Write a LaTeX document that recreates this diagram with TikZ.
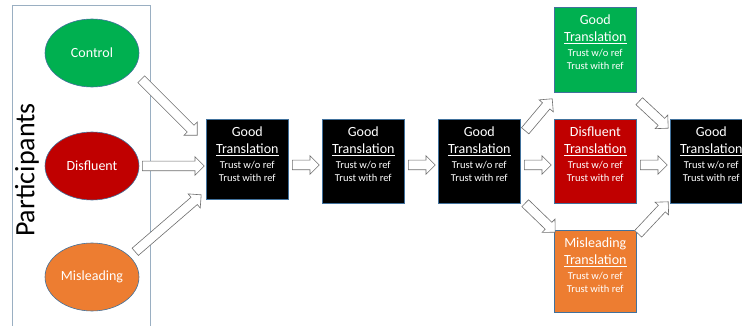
\documentclass[tikz,border=0pt]{standalone}
\usepackage{fontspec}
\setmainfont{Carlito}
\usetikzlibrary{shapes.geometric,shapes.arrows,calc}
\definecolor{pgreen}{HTML}{00B050}
\definecolor{pred}{HTML}{C00000}
\definecolor{porange}{HTML}{ED7D31}
\definecolor{pedge}{HTML}{41719C}
\definecolor{ppanel}{HTML}{9AAFC2}
\definecolor{parrow}{HTML}{6E6E6E}
\tikzset{
  oval/.style={ellipse, draw=pedge, line width=0.6pt, minimum width=94pt, minimum height=68pt, inner sep=0pt,
    text=white, font=\fontsize{14}{16}\selectfont},
  tbox/.style={rectangle, draw=pedge, line width=0.6pt, minimum width=82pt, minimum height=84pt, inner sep=0pt, anchor=north west},
  ttext/.style={anchor=north, text=white, align=center, inner sep=0pt, font=\fontsize{10.5}{13}\selectfont},
  blockarrow/.style={single arrow, draw=parrow, fill=white, line width=0.6pt, inner xsep=0pt, inner ysep=4.5pt,
    single arrow head extend=4.5pt, single arrow tip angle=90}
}
\newcommand\barrow[2]{%
  \path let \p1=(#1), \p2=(#2), \n1={atan2(\y2-\y1,\x2-\x1)}, \n2={veclen(\x2-\x1,\y2-\y1)} in
    node[blockarrow, minimum height=\n2, rotate=\n1, anchor=tail] at (\p1) {};}
\newcommand\boxlines[1]{{\fontsize{14}{16}\selectfont #1}\\[4pt]{\fontsize{14}{16}\selectfont\underline{Translation}}\\[1.5pt]Trust w/o ref\\Trust with ref}
\begin{document}
\begin{tikzpicture}[x=1pt,y=-1pt]
\useasboundingbox (0,0) rectangle (742,326);
% participants panel
\draw[ppanel, line width=0.7pt] (12,335) -- (12,5) -- (150,5) -- (150,335);
\node[rotate=90, font=\fontsize{28}{30}\selectfont, inner sep=0pt] (part) at (27,170) {Participants};
% ellipses
\node[oval, fill=pgreen] (ctrl) at (92,53) {Control};
\node[oval, fill=pred] (disf) at (92,166) {Disfluent};
\node[oval, fill=porange] (misl) at (92,277) {Misleading};
% boxes
\node[tbox, fill=black, minimum height=80pt] (b1) at (206,119) {};
\node[tbox, fill=black] (b2) at (322,119) {};
\node[tbox, fill=black] (b3) at (438,119) {};
\node[tbox, fill=pgreen, minimum height=85pt] (bg) at (554,7) {};
\node[tbox, fill=pred] (br) at (554,119) {};
\node[tbox, fill=porange, minimum height=82pt] (bo) at (554,230) {};
\node[tbox, fill=black] (b4) at (670,119) {};
% box texts
\node[ttext] (t1) at ($(b1.north)+(0,8)$) {\boxlines{Good}};
\node[ttext] (t2) at ($(b2.north)+(0,8)$) {\boxlines{Good}};
\node[ttext] (t3) at ($(b3.north)+(0,8)$) {\boxlines{Good}};
\node[ttext] (tg) at ($(bg.north)+(0,8)$) {\boxlines{Good}};
\node[ttext] (tr) at ($(br.north)+(0,8)$) {\boxlines{Disfluent}};
\node[ttext] (to) at ($(bo.north)+(0,8)$) {\boxlines{Misleading}};
\node[ttext] (t4) at ($(b4.north)+(0,8)$) {\boxlines{Good}};
% arrow end points
\coordinate (a1s) at (141,79);  \coordinate (a1e) at (197,135);
\coordinate (a2s) at (142,166); \coordinate (a2e) at (204,166);
\coordinate (a3s) at (135,252); \coordinate (a3e) at (201,195);
\coordinate (a4s) at (292,165); \coordinate (a4e) at (319,165);
\coordinate (a5s) at (408,165); \coordinate (a5e) at (435,165);
\coordinate (a6s) at (525,131); \coordinate (a6e) at (552,99);
\coordinate (a7s) at (524,165); \coordinate (a7e) at (551,165);
\coordinate (a8s) at (525,203); \coordinate (a8e) at (555,232);
\coordinate (a9s) at (639,101); \coordinate (a9e) at (668,128);
\coordinate (a10s) at (640,165); \coordinate (a10e) at (667,165);
\coordinate (a11s) at (638,234); \coordinate (a11e) at (668,202);
\barrow{a1s}{a1e}
\barrow{a2s}{a2e}
\barrow{a3s}{a3e}
\barrow{a4s}{a4e}
\barrow{a5s}{a5e}
\barrow{a6s}{a6e}
\barrow{a7s}{a7e}
\barrow{a8s}{a8e}
\barrow{a9s}{a9e}
\barrow{a10s}{a10e}
\barrow{a11s}{a11e}
\end{tikzpicture}
\end{document}
